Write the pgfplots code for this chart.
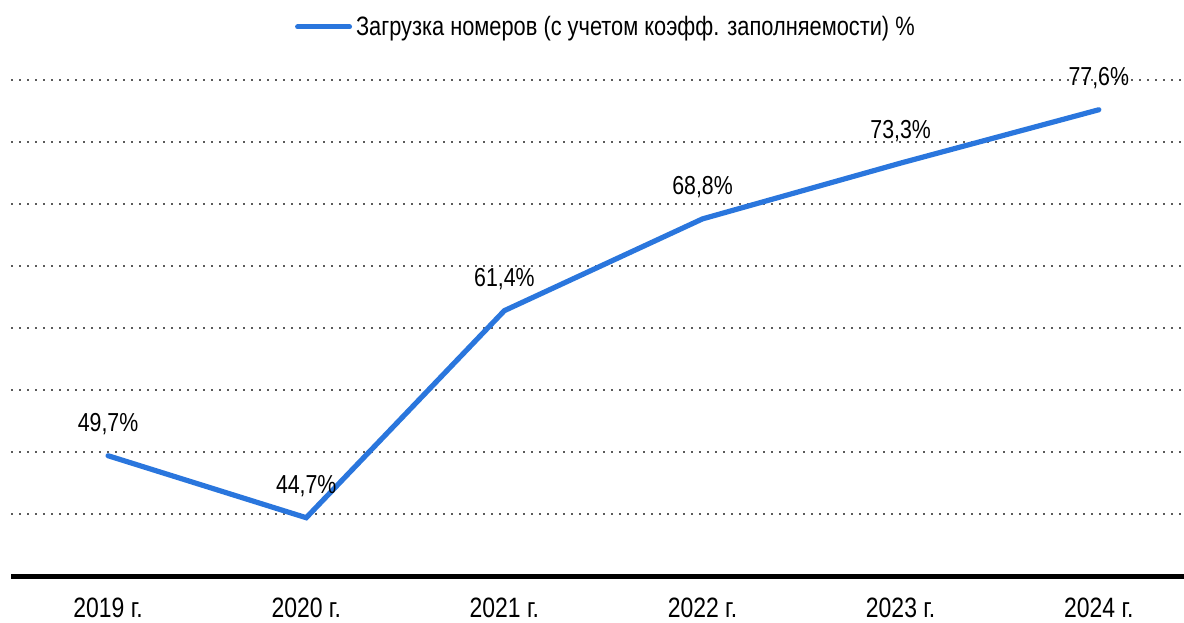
\documentclass[border=0pt]{standalone}
\usepackage{fontspec}
\setmainfont{Liberation Sans}[FakeStretch=0.82]
\usepackage{pgfplots}
\pgfplotsset{compat=1.18}
\definecolor{lineblue}{RGB}{42,118,221}
\definecolor{dotgray}{RGB}{90,90,90}
\begin{document}
\begin{tikzpicture}
\useasboundingbox (-5.5pt,-23pt) rectangle (586.5pt,288pt);
\begin{axis}[
scale only axis,
width=586.5pt,
height=248pt,
xmin=-0.49, xmax=5.43,
ymin=40, ymax=80,
ytick={45,50,...,80},
yticklabels={},
ymajorgrids,
major grid style={dotgray, line width=1pt, dash pattern=on 1pt off 3pt},
axis line style={draw=none},
tick style={draw=none},
xtick=data,
xticklabels={{2019 г.},{2020 г.},{2021 г.},{2022 г.},{2023 г.},{2024 г.}},
xticklabel style={anchor=center, yshift=-16pt, font=\fontsize{14}{16}\selectfont},
clip=false,
legend style={at={(0.508,1.107)}, anchor=center, draw=none, fill=none,
  font=\fontsize{13.3}{15}\selectfont, inner sep=0pt,
  /tikz/every even column/.append style={column sep=2pt}},
legend image code/.code={\draw[#1, line width=2.5pt, line cap=round] (0,0) -- (26pt,0);},
/pgf/number format/assume math mode=true,
]
\addplot[lineblue, line width=2.6pt, line cap=round, line join=miter, mark=none,
  nodes near coords={\pgfmathprintnumber[fixed, fixed zerofill, precision=1, use comma]{\pgfplotspointmeta}\%},
  every node near coord/.append style={anchor=center, yshift=16pt, inner sep=0pt, text=black, font=\fontsize{13}{15}\selectfont}]
coordinates {(0,49.7) (1,44.7) (2,61.4) (3,68.8) (4,73.3) (5,77.6)};
\legend{Загрузка номеров (с учетом коэфф. заполняемости) \%}
\draw[black, line width=2.5pt] (rel axis cs:0,0) -- (rel axis cs:1,0);
\end{axis}
\end{tikzpicture}
\end{document}
